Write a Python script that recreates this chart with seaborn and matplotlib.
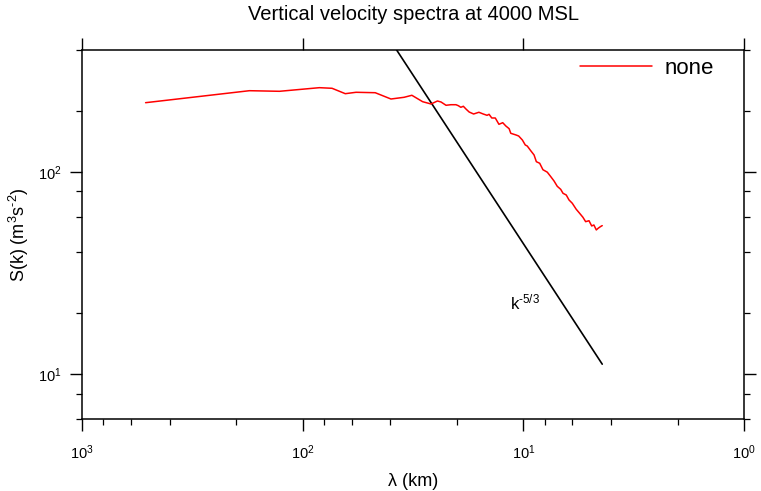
import numpy as np
import pandas as pd
import matplotlib
matplotlib.use("Agg")
import matplotlib.pyplot as plt
import seaborn as sns
from matplotlib.ticker import FixedLocator, FixedFormatter, NullFormatter

# ---------------- data ----------------
wavelength_km = [515.0, 174.3, 127.4, 84.0, 73.6, 64.1, 57.3, 46.9, 39.8, 34.7,
                 32.0, 28.6, 26.2, 24.5, 23.6, 22.4, 21.3, 20.2, 19.7, 19.2,
                 18.7, 18.2, 17.6, 16.8, 15.9, 15.2, 14.6, 14.3, 13.9, 13.4,
                 12.9, 12.4, 12.0, 11.6, 11.4, 10.8, 10.5, 10.1, 9.8, 9.6,
                 9.26, 8.94, 8.73, 8.43, 8.15, 7.79, 7.52, 7.26, 7.02, 6.77,
                 6.61, 6.39, 6.21, 6.00, 5.76, 5.56, 5.37, 5.22, 5.04, 4.90,
                 4.79, 4.67, 4.58, 4.47, 4.39]
spectrum = [219.6, 251.7, 250.0, 260.5, 258.7, 243.3, 247.2, 246.0, 229.0, 233.5,
            238.9, 222.1, 216.4, 223.9, 221.3, 213.2, 214.6, 214.6, 212.2, 208.4,
            210.8, 204.4, 197.5, 193.1, 196.9, 193.1, 190.2, 192.4, 184.5, 184.5,
            171.7, 174.9, 168.4, 163.4, 155.0, 152.1, 150.3, 143.6, 135.7, 134.1,
            127.2, 121.1, 112.2, 110.2, 102.4, 99.6, 94.8, 90.1, 84.8, 81.9,
            78.3, 76.8, 72.6, 69.9, 65.3, 62.4, 59.6, 56.7, 57.3, 54.0,
            54.6, 51.6, 52.6, 53.6, 54.2]
series_name = "none"

# k^-5/3 reference line (two end points)
ref_wavelength_km = [515.0, 4.39]
ref_spectrum = [31480.0, 11.2]
ref_label = r"k$^{\text{-5/3}}$"

x_major = [1000, 100, 10, 1]
x_major_labels = [r"$10^{3}$", r"$10^{2}$", r"$10^{1}$", r"$10^{0}$"]
x_minor = [800, 600, 400, 200, 80, 60, 40, 20, 8, 6, 4, 2]
y_major = [10, 100]
y_major_labels = [r"$10^{1}$", r"$10^{2}$"]
y_minor = [6, 8, 20, 40, 60, 80, 200, 400]

title = "Vertical velocity spectra at 4000 MSL"
xlabel = "λ (km)"
ylabel = r"S(k) (m$^{3}$s$^{\text{-2}}$)"

# ---------------- style ----------------
sns.set_style("white")
plt.rcParams["font.family"] = ["Liberation Sans", "DejaVu Sans"]
plt.rcParams["mathtext.fontset"] = "custom"
plt.rcParams["mathtext.rm"] = "Liberation Sans"
plt.rcParams["mathtext.it"] = "Liberation Sans:italic"
plt.rcParams["mathtext.bf"] = "Liberation Sans:bold"
plt.rcParams["mathtext.default"] = "regular"
plt.rcParams["text.color"] = "black"
plt.rcParams["axes.labelcolor"] = "black"
plt.rcParams["xtick.color"] = "black"
plt.rcParams["ytick.color"] = "black"

W, H = 761, 491
fig = plt.figure(figsize=(W / 100, H / 100), dpi=100)
ax = fig.add_axes([82 / W, 1 - 419 / H, 662 / W, 369 / H])

df = pd.DataFrame({"wavelength": wavelength_km, "S": spectrum})
ref_df = pd.DataFrame({"wavelength": ref_wavelength_km, "S": ref_spectrum})

sns.lineplot(data=ref_df, x="wavelength", y="S", ax=ax, color="black",
             linewidth=1.2, sort=False, estimator=None, legend=False, zorder=2)
sns.lineplot(data=df, x="wavelength", y="S", ax=ax, color="red",
             linewidth=1.1, sort=False, estimator=None, label=series_name, zorder=3)

ax.set_xscale("log")
ax.set_yscale("log")
ax.set_xlim(1000, 1)
ax.set_ylim(6, 400)

ax.xaxis.set_major_locator(FixedLocator(x_major))
ax.xaxis.set_major_formatter(FixedFormatter(x_major_labels))
ax.xaxis.set_minor_locator(FixedLocator(x_minor))
ax.xaxis.set_minor_formatter(NullFormatter())
ax.yaxis.set_major_locator(FixedLocator(y_major))
ax.yaxis.set_major_formatter(FixedFormatter(y_major_labels))
ax.yaxis.set_minor_locator(FixedLocator(y_minor))
ax.yaxis.set_minor_formatter(NullFormatter())

ax.tick_params(which="both", direction="out", colors="black", labelcolor="black",
               labelsize=10.5)
ax.tick_params(which="major", length=8.6, width=1.0, top=True, right=True,
               bottom=True, left=True)
ax.tick_params(axis="x", which="major", pad=9)
ax.tick_params(axis="y", which="major", pad=6)
ax.tick_params(which="minor", length=4.3, width=0.9, right=True, left=True, bottom=True)
ax.tick_params(axis="x", which="minor", top=False)
ax.tick_params(axis="x", which="major", labeltop=False)
ax.tick_params(axis="y", which="major", labelright=False)

for s in ax.spines.values():
    s.set_visible(True)
    s.set_color("black")
    s.set_linewidth(1.1)
ax.grid(False)

ax.text(11.5, 21.0, ref_label, fontsize=12, ha="left", va="baseline", color="black")

leg = ax.legend(loc="center left", bbox_to_anchor=(0.753, 0.951), frameon=False,
                fontsize=16, handlelength=3.2, handletextpad=0.6,
                borderpad=0, borderaxespad=0)
for t in leg.get_texts():
    t.set_color("black")

ax.set_xlabel(xlabel, fontsize=13, labelpad=8, color="black")
ax.set_ylabel(ylabel, fontsize=13, labelpad=5, color="black")
fig.text(414 / W, 1 - 14 / H, title, fontsize=14.5, ha="center", va="center",
         color="black")

fig.savefig("out.png", dpi=100)
